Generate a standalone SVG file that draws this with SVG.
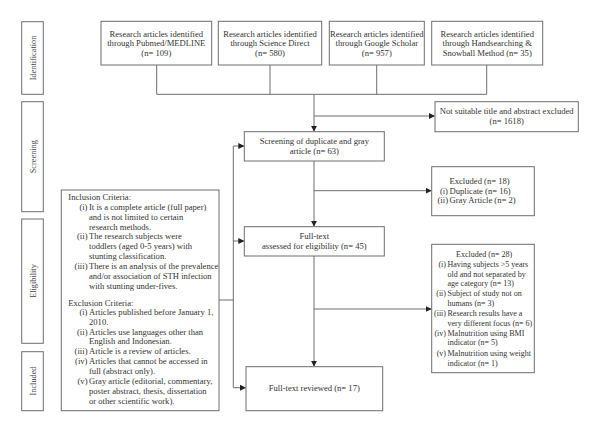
<svg xmlns="http://www.w3.org/2000/svg" width="600" height="432" viewBox="0 0 600 432">
<defs>
<style>
.box{fill:#fff;stroke:#6e6e6e;stroke-width:1}
.ln{fill:none;stroke:#6e6e6e;stroke-width:1}
text{font-family:"Liberation Serif","Times New Roman",serif;font-size:8.6px;fill:#333}
.c{text-anchor:middle}
.e{text-anchor:end}
.side{font-size:8.3px;fill:#444}
.sm{font-size:8px}
</style>
<marker id="ah" markerWidth="6" markerHeight="6" refX="5.5" refY="3" orient="auto" markerUnits="userSpaceOnUse">
<path d="M0,0 L6,3 L0,6 Z" fill="#222"/>
</marker>
</defs>
<rect width="600" height="432" fill="#fff"/>

<g id="side-identification"><rect class="box" x="21.7" y="21.7" width="21.6" height="72.6"/><text class="c side" transform="translate(35.5,58) rotate(-90)">Identification</text></g>
<g id="side-screening"><rect class="box" x="21.7" y="101.7" width="21.6" height="110"/><text class="c side" transform="translate(35.5,156.7) rotate(-90)">Screening</text></g>
<g id="side-eligibility"><rect class="box" x="21.7" y="219" width="21.6" height="124.3"/><text class="c side" transform="translate(35.5,281) rotate(-90)">Eligibility</text></g>
<g id="side-included"><rect class="box" x="21.7" y="351.7" width="21.6" height="59"/><text class="c side" transform="translate(35.5,381) rotate(-90)">Included</text></g>

<g id="connectors">
<path class="ln" d="M156.7,65 V94.3 M270,65 V94.3 M376.7,65 V94.3 M486.7,65 V94.3 M156.7,94.3 H486.7"/>
<path class="ln" d="M314,94.3 V131.2" marker-end="url(#ah)"/>
<path class="ln" d="M314,116 H434.5" marker-end="url(#ah)"/>
<path class="ln" d="M314,161 V226.2" marker-end="url(#ah)"/>
<path class="ln" d="M314,190.7 H431.2" marker-end="url(#ah)"/>
<path class="ln" d="M314,256 V366.2" marker-end="url(#ah)"/>
<path class="ln" d="M314,309 H431.2" marker-end="url(#ah)"/>
<path class="ln" d="M219,300 H233.3 M233.3,146 V387.7"/>
<path class="ln" d="M233.3,146 H243.8" marker-end="url(#ah)"/>
<path class="ln" d="M233.3,241 H243.8" marker-end="url(#ah)"/>
<path class="ln" d="M233.3,387.7 H245.5" marker-end="url(#ah)"/>
</g>

<g id="n-pubmed"><rect class="box" x="101" y="21.3" width="110.7" height="43.7"/>
<text class="c" x="156.3" y="36.5">Research articles identified</text>
<text class="c" x="156.3" y="46">through Pubmed/MEDLINE</text>
<text class="c" x="156.3" y="55.5">(n= 109)</text></g>

<g id="n-sciencedirect"><rect class="box" x="218.3" y="21.3" width="103.4" height="43.7"/>
<text class="c" x="270" y="36.5">Research articles identified</text>
<text class="c" x="270" y="46">through Science Direct</text>
<text class="c" x="270" y="55.5">(n= 580)</text></g>

<g id="n-scholar"><rect class="box" x="329.3" y="21.3" width="95" height="43.7"/>
<text class="c" x="376.8" y="36.5">Research articles identified</text>
<text class="c" x="376.8" y="46">through Google Scholar</text>
<text class="c" x="376.8" y="55.5">(n= 957)</text></g>

<g id="n-hand"><rect class="box" x="431.7" y="21.3" width="111" height="43.7"/>
<text class="c" x="487.2" y="36.5">Research articles identified</text>
<text class="c" x="487.2" y="46">through Handsearching &amp;</text>
<text class="c" x="487.2" y="55.5">Snowball Method (n= 35)</text></g>

<g id="n-notsuitable"><rect class="box" x="435" y="101.7" width="143.3" height="30"/>
<text class="c" x="506.7" y="114">Not suitable title and abstract excluded</text>
<text class="c" x="506.7" y="124">(n= 1618)</text></g>

<g id="n-screening"><rect class="box" x="244.3" y="131.7" width="140" height="29.3"/>
<text class="c" x="314.3" y="143.7">Screening of duplicate and gray</text>
<text class="c" x="314.3" y="153.7">article (n= 63)</text></g>

<g id="n-excluded1"><rect class="box" x="431.7" y="166.7" width="102.6" height="49"/>
<text x="449.5" y="183.7">Excluded (n= 18)</text>
<text class="e" x="448" y="193.7">(i)</text><text x="449.5" y="193.7">Duplicate (n= 16)</text>
<text class="e" x="448" y="203.3">(ii)</text><text x="449.5" y="203.3">Gray Article (n= 2)</text></g>

<g id="n-fulltext"><rect class="box" x="244.3" y="226.7" width="140" height="29.3"/>
<text class="c" x="314.3" y="239">Full-text</text>
<text class="c" x="314.3" y="249">assessed for eligibility (n= 45)</text></g>

<g id="n-excluded2" class="sm"><rect class="box" x="431.7" y="244.3" width="102.6" height="128.4"/>
<text class="sm" x="456" y="257">Excluded (n= 28)</text>
<text class="e sm" x="446" y="267">(i)</text><text class="sm" x="447.5" y="267">Having subjects &gt;5 years</text>
<text class="sm" x="447.5" y="276.7">old and not separated by</text>
<text class="sm" x="447.5" y="286.3">age category (n= 13)</text>
<text class="e sm" x="446" y="296.3">(ii)</text><text class="sm" x="447.5" y="296.3">Subject of study not on</text>
<text class="sm" x="447.5" y="306">humans (n= 3)</text>
<text class="e sm" x="446" y="316">(iii)</text><text class="sm" x="447.5" y="316">Research results have a</text>
<text class="sm" x="447.5" y="325.7">very different focus (n= 6)</text>
<text class="e sm" x="446" y="335.7">(iv)</text><text class="sm" x="447.5" y="335.7">Malnutrition using BMI</text>
<text class="sm" x="447.5" y="345.3">indicator (n= 5)</text>
<text class="e sm" x="446" y="355.7">(v)</text><text class="sm" x="447.5" y="355.7">Malnutrition using weight</text>
<text class="sm" x="447.5" y="365.7">indicator (n= 1)</text></g>

<g id="n-criteria"><rect class="box" x="61.3" y="190" width="157.7" height="220.7"/>
<text x="68.3" y="200">Inclusion Criteria:</text>
<text class="e" x="87.5" y="209.8">(i)</text><text x="89" y="209.8">It is a complete article (full paper)</text>
<text x="89" y="219.7">and is not limited to certain</text>
<text x="89" y="229.5">research methods.</text>
<text class="e" x="87.5" y="239.4">(ii)</text><text x="89" y="239.4">The research subjects were</text>
<text x="89" y="249.2">toddlers (aged 0-5 years) with</text>
<text x="89" y="259.1">stunting classification.</text>
<text class="e" x="87.5" y="269">(iii)</text><text x="89" y="269">There is an analysis of the prevalence</text>
<text x="89" y="279">and/or association of STH infection</text>
<text x="89" y="289">with stunting under-fives.</text>
<text x="68.3" y="305.7">Exclusion Criteria:</text>
<text class="e" x="87.5" y="315.3">(i)</text><text x="89" y="315.3">Articles published before January 1,</text>
<text x="89" y="325">2010.</text>
<text class="e" x="87.5" y="334.7">(ii)</text><text x="89" y="334.7">Articles use languages other than</text>
<text x="89" y="344.3">English and Indonesian.</text>
<text class="e" x="87.5" y="354">(iii)</text><text x="89" y="354">Article is a review of articles.</text>
<text class="e" x="87.5" y="364">(iv)</text><text x="89" y="364">Articles that cannot be accessed in</text>
<text x="89" y="374">full (abstract only).</text>
<text class="e" x="87.5" y="384">(v)</text><text x="89" y="384">Gray article (editorial, commentary,</text>
<text x="89" y="394">poster abstract, thesis, dissertation</text>
<text x="89" y="404">or other scientific work).</text></g>

<g id="n-reviewed"><rect class="box" x="246" y="366.7" width="136.7" height="44"/>
<text class="c" x="314.3" y="390.7">Full-text reviewed (n= 17)</text></g>
</svg>
